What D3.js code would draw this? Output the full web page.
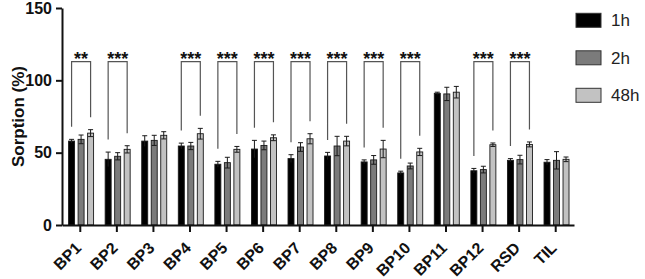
<!DOCTYPE html>
<html>
<head>
<meta charset="utf-8">
<script src="https://cdn.jsdelivr.net/npm/d3@7"></script>
<style>
  body { margin: 0; background: #fff; }
  svg { font-family: "Liberation Sans", Arial, sans-serif; }
  .axis path, .axis line { stroke: #111; stroke-width: 2; }
  .axis text { font-weight: bold; font-size: 16px; fill: #111; }
</style>
</head>
<body>
<svg id="chart"></svg>
<script>
// values
const categories = ['BP1','BP2','BP3','BP4','BP5','BP6','BP7','BP8','BP9','BP10','BP11','BP12','RSD','TIL'];
const series = ['1h', '2h', '48h'];
const mean1h  = [58, 45.4, 58, 54.6, 42, 52.5, 45.9, 47.7, 43.6, 36, 91, 37.5, 44.7, 43.4];
const mean2h  = [59.2, 47.5, 58.5, 54.6, 43.1, 55, 53.9, 54.6, 45, 40.8, 90.6, 38.3, 45.2, 44.7];
const mean48h = [63.5, 52.3, 62, 63.1, 52.3, 60.3, 59.6, 58, 52.5, 50.5, 91.8, 55.5, 55.7, 45.4];
const err1h   = [1.2, 5, 3.7, 2, 2, 6, 2.7, 2.5, 1.4, 1.2, 0.8, 1.6, 1.2, 1.8];
const err2h   = [3, 2.5, 3.5, 2.5, 3.7, 3, 3, 6.7, 3, 2, 4.6, 2.3, 3, 6];
const err48h  = [2.4, 2.5, 2.5, 3.7, 2, 2, 3.5, 3.3, 6, 2.5, 4, 1.2, 1.7, 1.6];
const sigLabels = ['**','***','','***','***','***','***','***','***','***','','***','***',''];
const yTicks = [0, 50, 100, 150];

const colors = ['#000000', '#7b7b7b', '#c2c2c2'];

const width = 645, height = 279;
const svg = d3.select('#chart').attr('width', width).attr('height', height);

// build rows for the bars
const means = [mean1h, mean2h, mean48h];
const errs = [err1h, err2h, err48h];
const rows = [];
categories.forEach((c, i) => {
  series.forEach((s, j) => {
    rows.push({ cat: c, series: s, idx: j, value: means[j][i], err: errs[j][i] });
  });
});

const x0 = d3.scaleBand().domain(categories).range([62, 574]).padding(0);
const x1 = d3.scaleBand().domain(series).range([-12.5, 12.5]).paddingInner(0.37);
const y = d3.scaleLinear().domain([0, 150]).range([225, 8]);

const barX = d => x0(d.cat) + x0.bandwidth() / 2 + 0.8 + x1(d.series);
const barC = d => barX(d) + x1.bandwidth() / 2;

// bars
svg.append('g').selectAll('rect')
  .data(rows)
  .join('rect')
    .attr('x', barX)
    .attr('y', d => y(d.value))
    .attr('width', x1.bandwidth())
    .attr('height', d => y(0) - y(d.value))
    .attr('fill', d => colors[d.idx])
    .attr('stroke', '#1a1a1a')
    .attr('stroke-width', 0.9);

// error bars
const eb = svg.append('g').attr('stroke', '#1a1a1a').attr('stroke-width', 1);
eb.selectAll('.stem')
  .data(rows)
  .join('line')
    .attr('class', 'stem')
    .attr('x1', barC).attr('x2', barC)
    .attr('y1', d => y(d.value - d.err))
    .attr('y2', d => y(d.value + d.err));
eb.selectAll('.capTop')
  .data(rows)
  .join('line')
    .attr('class', 'capTop')
    .attr('x1', d => barC(d) - 2.5).attr('x2', d => barC(d) + 2.5)
    .attr('y1', d => y(d.value + d.err)).attr('y2', d => y(d.value + d.err));
eb.selectAll('.capBot')
  .data(rows.filter(d => d.idx > 0))
  .join('line')
    .attr('class', 'capBot')
    .attr('x1', d => barC(d) - 2.5).attr('x2', d => barC(d) + 2.5)
    .attr('y1', d => y(d.value - d.err)).attr('y2', d => y(d.value - d.err));

// significance brackets
const bracketY = y(112.9);
const sigRows = categories.map((c, i) => ({ i: i, cat: c, label: sigLabels[i] })).filter(d => d.label);
const br = svg.append('g');
sigRows.forEach(d => {
  const a = rows[d.i * 3], b = rows[d.i * 3 + 2];
  const xa = barC(a), xb = barC(b);
  const ya = y(a.value + a.err) - 12.5, yb = y(b.value + b.err) - 12.5;
  br.append('path')
    .attr('d', `M${xa},${ya}V${bracketY}H${xb}V${yb}`)
    .attr('fill', 'none')
    .attr('stroke', '#555')
    .attr('stroke-width', 1.2);
  br.append('text')
    .attr('x', (xa + xb) / 2)
    .attr('y', bracketY + 3.5)
    .attr('text-anchor', 'middle')
    .style('font-size', '18px')
    .style('font-weight', 'bold')
    .style('fill', '#111')
    .text(d.label);
});

// axes
const xAxis = d3.axisBottom(x0).tickSize(7).tickSizeOuter(0);
const yAxis = d3.axisLeft(y).tickValues(yTicks).tickSize(6).tickSizeOuter(0).tickPadding(4);

svg.append('g')
  .attr('class', 'axis x-axis')
  .attr('transform', 'translate(0,225)')
  .call(xAxis)
  .selectAll('text')
    .attr('text-anchor', 'end')
    .attr('x', 0).attr('y', 0).attr('dy', 0)
    .attr('transform', 'translate(2,24) rotate(-45)');

svg.append('g')
  .attr('class', 'axis y-axis')
  .attr('transform', 'translate(62,0)')
  .call(yAxis);

svg.append('text')
  .attr('transform', `translate(18,${y(75)}) rotate(-90)`)
  .attr('text-anchor', 'middle')
  .attr('dy', '0.35em')
  .style('font-size', '17px')
  .style('font-weight', 'bold')
  .style('fill', '#111')
  .text('Sorption (%)');

// legend
const legend = svg.append('g').selectAll('g')
  .data(series)
  .join('g')
    .attr('transform', (d, i) => `translate(576,${13.3 + i * 37.5})`);
legend.append('rect')
  .attr('width', 25).attr('height', 14)
  .attr('fill', (d, i) => colors[i])
  .attr('stroke', '#333').attr('stroke-width', 1);
legend.append('text')
  .attr('x', 35).attr('y', 7)
  .attr('dy', '0.36em')
  .style('font-size', '17px')
  .style('fill', '#222')
  .text(d => d);
</script>
</body>
</html>
